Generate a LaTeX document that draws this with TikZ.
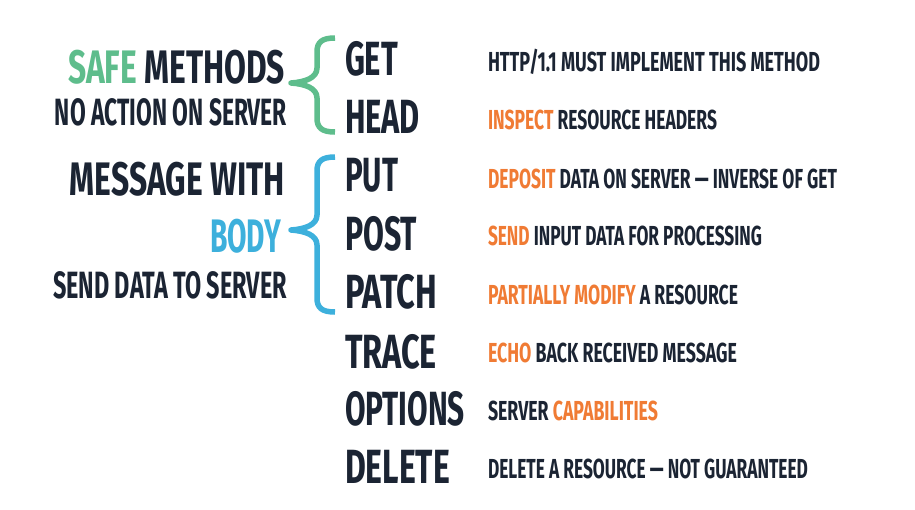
\documentclass[tikz,border=0pt]{standalone}
\usepackage{fontspec}
\setmainfont{Fira Sans}[FakeStretch=0.7]
\usepackage{graphicx}
\definecolor{navy}{HTML}{1B2433}
\definecolor{safegreen}{HTML}{5EBD8C}
\definecolor{bodyblue}{HTML}{3DB0DC}
\definecolor{accent}{HTML}{F07B34}
\newcommand\fitw[2]{\resizebox{#1pt}{\height}{#2}}
\newcommand\hl[1]{\textcolor{accent}{#1}}
\begin{document}
\begin{tikzpicture}[x=1pt,y=-1pt,
  every node/.style={inner sep=0pt,outer sep=0pt,text=navy},
  method/.style={anchor=base west,font=\fontsize{48}{48}\selectfont\bfseries},
  desc/.style={anchor=base west,font=\fontsize{27.5}{27.5}\selectfont\bfseries},
  bigleft/.style={anchor=base east,font=\fontsize{47}{47}\selectfont\bfseries},
  smallleft/.style={anchor=base east,font=\fontsize{38}{38}\selectfont\bfseries},
  bracegreen/.style={draw=safegreen,line width=5.5pt,line cap=butt,line join=round},
  braceblue/.style={draw=bodyblue,line width=5.5pt,line cap=butt,line join=round}]
\useasboundingbox[fill=white] (0,0) rectangle (915,509);

% method names
\node[method] (get)     at (345,75)  {\fitw{53}{GET}};
\node[method] (head)    at (345,133) {\fitw{75}{HEAD}};
\node[method] (put)     at (345,191) {\fitw{53}{PUT}};
\node[method] (post)    at (345,250) {\fitw{72}{POST}};
\node[method] (patch)   at (345,308) {\fitw{92}{PATCH}};
\node[method] (trace)   at (345,368) {\fitw{92}{TRACE}};
\node[method] (options) at (345,425) {\fitw{120}{OPTIONS}};
\node[method] (delete)  at (345,483) {\fitw{105}{DELETE}};

% descriptions
\node[desc] (dget)     at (488,71)  {\fitw{332}{HTTP/1.1 MUST IMPLEMENT THIS METHOD}};
\node[desc] (dhead)    at (488,129) {\fitw{229}{\hl{INSPECT} RESOURCE HEADERS}};
\node[desc] (dput)     at (488,188) {\fitw{349}{\hl{DEPOSIT} DATA ON SERVER --- INVERSE OF GET}};
\node[desc] (dpost)    at (488,245) {\fitw{274}{\hl{SEND} INPUT DATA FOR PROCESSING}};
\node[desc] (dpatch)   at (488,304) {\fitw{250}{\hl{PARTIALLY MODIFY} A RESOURCE}};
\node[desc] (dtrace)   at (488,362) {\fitw{249}{\hl{ECHO} BACK RECEIVED MESSAGE}};
\node[desc] (doptions) at (488,420) {\fitw{170}{SERVER \hl{CAPABILITIES}}};
\node[desc] (ddelete)  at (488,478) {\fitw{320}{DELETE A RESOURCE --- NOT GUARANTEED}};

% left labels
\node[bigleft]   (safe)    at (285,83)  {\fitw{217}{\textcolor{safegreen}{SAFE} METHODS}};
\node[smallleft] (noact)   at (287,125) {\fitw{232}{NO ACTION ON SERVER}};
\node[bigleft]   (msgwith) at (285,195) {\fitw{215}{MESSAGE WITH}};
\node[bigleft]   (body)    at (281,252) {\fitw{71}{\textcolor{bodyblue}{BODY}}};
\node[smallleft] (senddata) at (287,298) {\fitw{234}{SEND DATA TO SERVER}};

% braces
\coordinate (gtop) at (335,38);
\coordinate (gtip) at (291,83);
\coordinate (gbot) at (335,132);
\draw[bracegreen] (gtop) .. controls (322,38) and (317,42) .. (317,52) -- (317,68)
  .. controls (317,78) and (305,82) .. (gtip)
  .. controls (305,84) and (317,88) .. (317,98) -- (317,118)
  .. controls (317,128) and (322,132) .. (gbot);

\coordinate (btop) at (335,157);
\coordinate (btip) at (291,230);
\coordinate (bbot) at (335,312);
\draw[braceblue] (btop) .. controls (322,157) and (317,161) .. (317,171) -- (317,215)
  .. controls (317,225) and (305,229) .. (btip)
  .. controls (305,231) and (317,235) .. (317,245) -- (317,298)
  .. controls (317,308) and (322,312) .. (bbot);
\end{tikzpicture}
\end{document}
